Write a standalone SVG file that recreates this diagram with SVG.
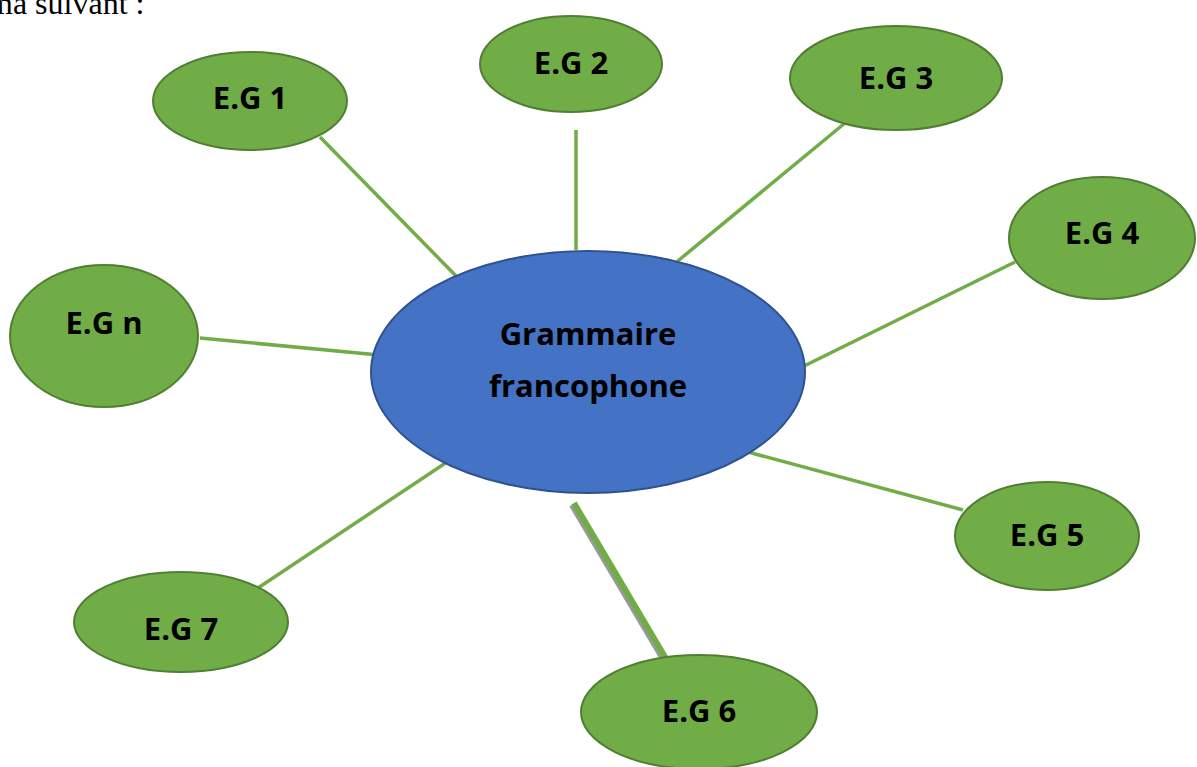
<svg xmlns="http://www.w3.org/2000/svg" width="1197" height="767" viewBox="0 0 1197 767">
<style>
.g{fill:#70AD47;stroke:#507E32;stroke-width:2}
.c{fill:#4472C4;stroke:#2F528F;stroke-width:2}
.t{font-family:"Open Sans","Liberation Sans",sans-serif;font-weight:bold;font-size:31px;fill:#000;text-anchor:middle;dominant-baseline:central}
.l{stroke:#70AD47;stroke-width:3.5;fill:none}
</style>
<rect width="1197" height="767" fill="#fff"/>
<text x="-12" y="14" font-family="'Liberation Serif',serif" font-size="32">ma suivant :</text>
<g id="connectors">
<line class="l" x1="320" y1="137" x2="456" y2="276"/>
<line class="l" x1="576" y1="130" x2="576" y2="250"/>
<line class="l" x1="845" y1="123" x2="673" y2="265"/>
<line class="l" x1="1015" y1="262" x2="800" y2="368"/>
<line class="l" x1="748" y1="452" x2="963" y2="510"/>
<line class="l" x1="255" y1="590" x2="450" y2="460"/>
<line class="l" x1="200" y1="338" x2="379" y2="355"/>
<line x1="572" y1="505" x2="666" y2="664" stroke="#999" stroke-width="6"/>
<line x1="574" y1="503" x2="668" y2="662" stroke="#70AD47" stroke-width="6"/>
</g>
<g id="center"><ellipse class="c" cx="588" cy="372" rx="217" ry="121"/><text class="t" x="588" y="333">Grammaire</text><text class="t" x="588" y="385">francophone</text></g>
<g id="eg1"><ellipse class="g" cx="250" cy="101" rx="97" ry="49"/><text class="t" x="250" y="97">E.G 1</text></g>
<g id="eg2"><ellipse class="g" cx="571" cy="64" rx="91" ry="48"/><text class="t" x="571" y="62">E.G 2</text></g>
<g id="eg3"><ellipse class="g" cx="896" cy="78" rx="106" ry="52"/><text class="t" x="896" y="77">E.G 3</text></g>
<g id="eg4"><ellipse class="g" cx="1102" cy="238" rx="93" ry="61"/><text class="t" x="1102" y="232">E.G 4</text></g>
<g id="eg5"><ellipse class="g" cx="1047" cy="536" rx="92" ry="54"/><text class="t" x="1047" y="534">E.G 5</text></g>
<g id="eg6"><ellipse class="g" cx="699" cy="712" rx="118" ry="57"/><text class="t" x="699" y="710">E.G 6</text></g>
<g id="eg7"><ellipse class="g" cx="181" cy="622" rx="107" ry="50"/><text class="t" x="181" y="628">E.G 7</text></g>
<g id="egn"><ellipse class="g" cx="104" cy="336" rx="94" ry="71"/><text class="t" x="104" y="322">E.G n</text></g>
</svg>
